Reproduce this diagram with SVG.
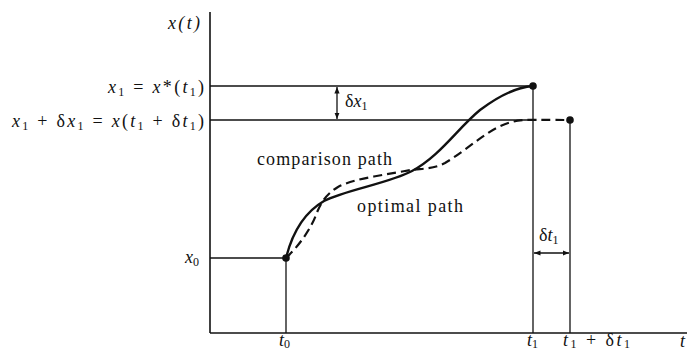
<svg xmlns="http://www.w3.org/2000/svg" width="687" height="353" viewBox="0 0 687 353">
<style>
text{font-family:"Liberation Serif","Times New Roman",serif;fill:#111;font-size:18px}
.i{font-style:italic}
.s{font-size:12px;font-style:normal}
.ln{stroke:#111;stroke-width:1.3;fill:none}
.ax{stroke:#111;stroke-width:1.6;fill:none}
.opt{stroke:#111;stroke-width:2.4;fill:none}
.cmp{stroke:#111;stroke-width:2.2;fill:none;stroke-dasharray:9 5}
.dot{fill:#111}
</style>
<defs>
<marker id="ah" viewBox="0 0 10 10" refX="10" refY="5" markerWidth="5" markerHeight="5" orient="auto-start-reverse">
<path d="M0,1 L10,5 L0,9 z" fill="#111"/>
</marker>
</defs>
<g id="axes">
<line class="ax" x1="210" y1="12" x2="210" y2="333"/>
<line class="ax" x1="210" y1="333" x2="687" y2="333"/>
<text class="i" x="168" y="29" textLength="32">x(t)</text>
<text class="i" x="680" y="347">t</text>
</g>
<g id="connectors">
<line class="ln" x1="210" y1="86" x2="533" y2="86"/>
<line class="ln" x1="210" y1="120" x2="533" y2="120"/>
<line class="ln" x1="210" y1="258" x2="286" y2="258"/>
<line class="ln" x1="286" y1="258" x2="286" y2="333"/>
<line class="ln" x1="533" y1="86" x2="533" y2="333"/>
<line class="ln" x1="570" y1="120" x2="570" y2="333"/>
<line class="ln" x1="337" y1="87" x2="337" y2="119" marker-start="url(#ah)" marker-end="url(#ah)"/>
<line class="ln" x1="534" y1="253" x2="569" y2="253" marker-start="url(#ah)" marker-end="url(#ah)"/>
</g>
<g id="optimal-path">
<path class="opt" d="M286,258 C293,230 305,212 324,201 C345,190 390,183 412,171 C440,156 458,128 480,110 C500,95 518,87 533,86"/>
<text x="357" y="212" textLength="106">optimal path</text>
</g>
<g id="comparison-path">
<path class="cmp" d="M286,258 C300,245 311,228 316,215 C320,204 326,194 338,187 C355,178 385,175 405,171 C420,168 432,170 445,163 C470,148 490,127 512,122 C522,119 530,120 570,120"/>
<text x="257" y="165" textLength="135">comparison path</text>
</g>
<g id="points">
<circle class="dot" cx="286" cy="258" r="3.8"/>
<circle class="dot" cx="533" cy="86" r="3.8"/>
<circle class="dot" cx="570" cy="120" r="3.8"/>
</g>
<g id="labels">
<text x="204" y="93" text-anchor="end" textLength="96"><tspan class="i">x</tspan><tspan class="s" dy="3">1</tspan><tspan dy="-3"> = </tspan><tspan class="i">x</tspan><tspan>*(</tspan><tspan class="i">t</tspan><tspan class="s" dy="3">1</tspan><tspan dy="-3">)</tspan></text>
<text x="204" y="127" text-anchor="end" textLength="192"><tspan class="i">x</tspan><tspan class="s" dy="3">1</tspan><tspan dy="-3"> + δ</tspan><tspan class="i">x</tspan><tspan class="s" dy="3">1</tspan><tspan dy="-3"> = </tspan><tspan class="i">x</tspan><tspan>(</tspan><tspan class="i">t</tspan><tspan class="s" dy="3">1</tspan><tspan dy="-3"> + δ</tspan><tspan class="i">t</tspan><tspan class="s" dy="3">1</tspan><tspan dy="-3">)</tspan></text>
<text x="185" y="263"><tspan class="i">x</tspan><tspan class="s" dy="3">0</tspan></text>
<text x="345" y="107"><tspan>δ</tspan><tspan class="i">x</tspan><tspan class="s" dy="3">1</tspan></text>
<text x="539" y="241"><tspan>δ</tspan><tspan class="i">t</tspan><tspan class="s" dy="3">1</tspan></text>
<text x="279" y="346"><tspan class="i">t</tspan><tspan class="s" dy="2">0</tspan></text>
<text x="527" y="346"><tspan class="i">t</tspan><tspan class="s" dy="2">1</tspan></text>
<text x="563" y="346" textLength="67"><tspan class="i">t</tspan><tspan class="s" dy="2">1</tspan><tspan dy="-2"> + δ</tspan><tspan class="i">t</tspan><tspan class="s" dy="2">1</tspan></text>
</g>
</svg>
